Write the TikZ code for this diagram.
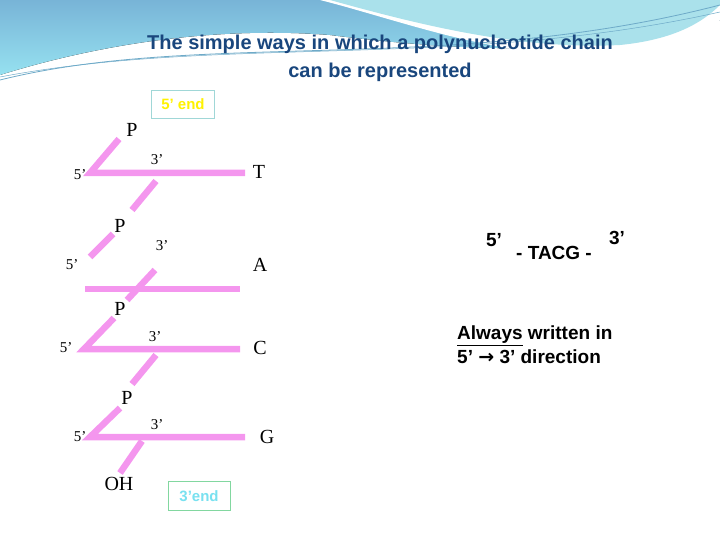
\documentclass[tikz,border=0pt]{standalone}
\usepackage{fontspec}
\setmainfont{Liberation Serif}
\newfontfamily\arial{Liberation Sans}
\newfontfamily\djfont{DejaVu Sans}
\definecolor{bgtop}{RGB}{120,180,215}
\definecolor{bgbot}{RGB}{150,225,240}
\definecolor{bglight}{RGB}{170,225,235}
\definecolor{bgline}{RGB}{110,170,200}
\definecolor{titlec}{RGB}{25,70,125}
\definecolor{pinkc}{RGB}{244,150,238}
\definecolor{box5}{RGB}{160,215,215}
\definecolor{box3}{RGB}{130,215,160}
\definecolor{cyantext}{RGB}{120,225,240}
\begin{document}
\begin{tikzpicture}[x=1pt,y=-1pt,
  bond/.style={line width=6.5pt,draw=pinkc},
  lab/.style={font=\fontsize{20}{22}\selectfont,inner sep=0pt},
  sm/.style={font=\fontsize{15}{16}\selectfont,inner sep=0pt},
  rt/.style={font=\arial\bfseries\fontsize{19}{22}\selectfont,inner sep=0pt}]
\useasboundingbox (0,0) rectangle (720,540);
% background swooshes
\fill[top color=bgtop,bottom color=bgbot]
  (0,0) -- (720,0) -- (720,20) .. controls (600,60) and (450,50) .. (330,35) .. controls (200,25) and (80,50) .. (0,75) -- cycle;
\fill[white] (320,0) .. controls (400,20) and (500,60) .. (610,55) .. controls (660,50) and (700,35) .. (720,20) -- (720,0) -- cycle;
\fill[bglight] (330,0) .. controls (420,25) and (520,50) .. (620,45) .. controls (670,40) and (700,25) .. (720,5) -- (720,0) -- cycle;
\draw[bgline,line width=0.8pt] (0,80) .. controls (200,30) and (450,75) .. (720,5);
\draw[bgline,line width=0.5pt] (0,77) .. controls (220,35) and (460,70) .. (720,12);
% title
\node[font=\arial\bfseries\fontsize{20}{28}\selectfont,text=titlec,align=center] (title) at (380,58) {The simple ways in which a polynucleotide chain\\can be represented};
% end boxes
\node[draw=box5,fill=white,text=yellow,font=\arial\bfseries\fontsize{15}{16}\selectfont,minimum width=63pt,minimum height=28pt] (e5) at (183,104) {5’ end};
\node[draw=box3,fill=white,text=cyantext,font=\arial\bfseries\fontsize{15}{16}\selectfont,minimum width=62pt,minimum height=29pt] (e3) at (199,496) {3’end};
% unit 1
\coordinate (p1) at (119,139); \coordinate (f1) at (90,173); \coordinate (b1) at (245,173);
\draw[bond] (p1) -- (f1) -- (b1);
\coordinate (c1a) at (156,181); \coordinate (c1b) at (132,210);
\draw[bond] (c1a) -- (c1b);
% unit 2
\coordinate (p2) at (113,234); \coordinate (f2) at (90,257);
\draw[bond] (p2) -- (f2);
\coordinate (h2a) at (85,289); \coordinate (h2b) at (240,289);
\draw[bond] (h2a) -- (h2b);
\coordinate (c2a) at (155,270); \coordinate (c2b) at (127,300);
\draw[bond] (c2a) -- (c2b);
% unit 3
\coordinate (p3) at (114,318); \coordinate (f3) at (84,349); \coordinate (b3) at (240,349);
\draw[bond] (p3) -- (f3) -- (b3);
\coordinate (c3a) at (156,355); \coordinate (c3b) at (132,384);
\draw[bond] (c3a) -- (c3b);
% unit 4
\coordinate (p4) at (120,408); \coordinate (f4) at (90,437); \coordinate (b4) at (245,437);
\draw[bond] (p4) -- (f4) -- (b4);
\coordinate (o4a) at (142,441); \coordinate (o4b) at (120,473);
\draw[bond] (o4a) -- (o4b);
% labels
\node[lab] (P1) at (132,130) {P}; \node[sm] (s51) at (80,175) {5’}; \node[sm] (t31) at (157,160) {3’}; \node[lab] (T) at (259,172) {T};
\node[lab] (P2) at (120,226) {P}; \node[sm] (s52) at (72,265) {5’}; \node[sm] (t32) at (162,246) {3’}; \node[lab] (A) at (260,265) {A};
\node[lab] (P3) at (120,309) {P}; \node[sm] (s53) at (66,348) {5’}; \node[sm] (t33) at (155,337) {3’}; \node[lab] (C) at (260,348) {C};
\node[lab] (P4) at (127,398) {P}; \node[sm] (s54) at (80,437) {5’}; \node[sm] (t34) at (157,425) {3’}; \node[lab] (G) at (267,437) {G};
\node[lab] (OH) at (119,484) {OH};
% right side
\node[rt] (r5) at (494,240) {5’};
\node[rt] (seq) at (554,253) {- TACG -};
\node[rt] (r3) at (617,238) {3’};
\node[rt,anchor=west,align=left] (note) at (457,345) {\underline{Always} written in\\[2pt]5’ {\djfont\bfseries →} 3’ direction};
\end{tikzpicture}
\end{document}
